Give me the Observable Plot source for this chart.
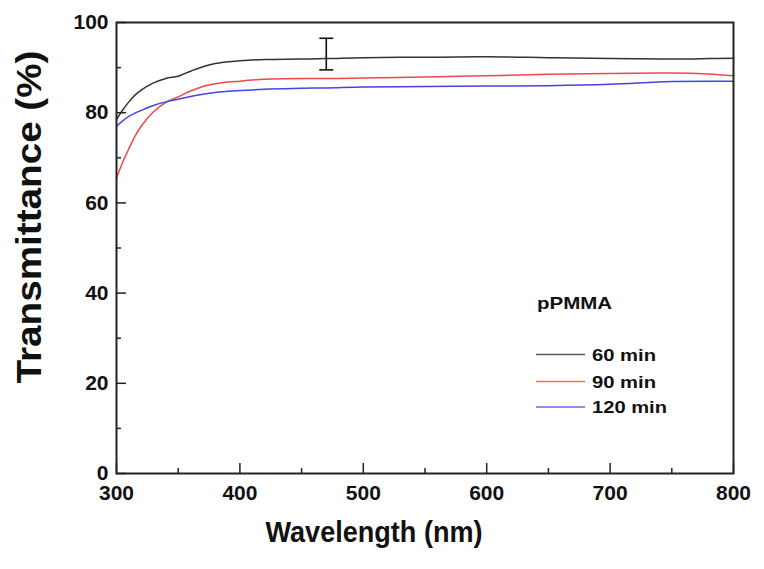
<!DOCTYPE html>
<html><head><meta charset="utf-8">
<script src="https://cdn.jsdelivr.net/npm/d3@7"></script>
<script src="https://cdn.jsdelivr.net/npm/@observablehq/plot@0.6"></script>
<style>
body{margin:0;background:#fff;}
#chart{width:764px;height:569px;}
</style></head><body><div id="chart"></div>
<script>
// Data
const wavelength = [300, 305, 310, 315, 320, 330, 340, 350, 360, 370, 380, 400, 420, 450, 470, 500, 550, 600, 650, 700, 750, 780, 800];
const t60  = [78.5, 80.6, 82.4, 83.9, 85.0, 86.6, 87.6, 88.1, 89.2, 90.2, 90.9, 91.5, 91.8, 91.9, 92.0, 92.2, 92.3, 92.4, 92.2, 92.0, 91.9, 92.0, 92.1];
const t90  = [65.5, 69.0, 72.0, 74.8, 77.0, 80.2, 82.3, 83.5, 84.8, 85.8, 86.4, 87.0, 87.4, 87.6, 87.6, 87.7, 87.9, 88.2, 88.5, 88.7, 88.8, 88.6, 88.2];
const t120 = [77.0, 78.2, 79.2, 79.9, 80.5, 81.6, 82.4, 83.0, 83.6, 84.1, 84.5, 84.9, 85.2, 85.4, 85.5, 85.7, 85.8, 85.9, 86.0, 86.3, 86.9, 87.0, 87.0];
const seriesNames = ["60 min", "90 min", "120 min"];
const seriesColors = ["#333333", "#f04848", "#4444e0"];
const xMajor = [300, 400, 500, 600, 700, 800];
const xMinor = [350, 450, 550, 650, 750];
const yMajor = [0, 20, 40, 60, 80, 100];
const yMinor = [10, 30, 50, 70, 90];
const errW = [470];
const errLo = [89.5];
const errHi = [96.5];
const legendTitle = "pPMMA";
const xTitle = "Wavelength (nm)";
const yTitle = "Transmittance (%)";

const values = [t60, t90, t120];
const rows = [];
seriesNames.forEach((s, i) => wavelength.forEach((w, j) => rows.push({series: s, w, t: values[i][j]})));
const err = errW.map((w, i) => ({w, lo: errLo[i], hi: errHi[i]}));

const capSymbol = {draw(ctx) { ctx.moveTo(-7, 0); ctx.lineTo(7, 0); }};

const font = "'Liberation Sans', Arial, sans-serif";
const plot = Plot.plot({
  width: 764, height: 569,
  marginLeft: 116, marginRight: 31, marginTop: 22, marginBottom: 96,
  style: {fontFamily: font, fontSize: "21px", fontWeight: "bold", color: "#111", background: "#fff", overflow: "visible"},
  x: {domain: [300, 800]},
  y: {domain: [0, 100]},
  color: {domain: seriesNames, range: seriesColors},
  marks: [
    Plot.line(rows, {x: "w", y: "t", z: "series", stroke: "series", strokeWidth: 1.5, curve: "monotone-x"}),
    Plot.ruleX(err, {x: "w", y1: "lo", y2: "hi", stroke: "#111", strokeWidth: 1.6}),
    Plot.dot(err, {x: "w", y: "lo", symbol: capSymbol, stroke: "#111", strokeWidth: 1.6, fill: "none"}),
    Plot.dot(err, {x: "w", y: "hi", symbol: capSymbol, stroke: "#111", strokeWidth: 1.6, fill: "none"}),
    Plot.axisX({ticks: xMajor, tickSize: -10, tickPadding: 22, label: null, tickFormat: d => d, stroke: "#222", strokeWidth: 1.5}),
    Plot.axisX({ticks: xMinor, tickSize: -5, tickPadding: 0, label: null, tickFormat: () => "", stroke: "#222", strokeWidth: 1.5}),
    Plot.axisY({ticks: yMajor, tickSize: -10, tickPadding: 18, label: null, tickFormat: d => d, stroke: "#222", strokeWidth: 1.5}),
    Plot.axisY({ticks: yMinor, tickSize: -5, tickPadding: 0, label: null, tickFormat: () => "", stroke: "#222", strokeWidth: 1.5}),
    Plot.frame({stroke: "#222", strokeWidth: 2}),
    Plot.text([xTitle], {text: d => d, frameAnchor: "bottom", textAnchor: "middle", dy: 68, dx: -51, fontSize: 29, fill: "#111"}),
    Plot.text([yTitle], {text: d => d, frameAnchor: "left", textAnchor: "middle", lineAnchor: "middle", rotate: -90, dx: -87, dy: -31, fontSize: 35, fill: "#111"})
  ]
});

const svg = d3.select(plot);
svg.selectAll("text").each(function() {
  if (this.textContent === xTitle) d3.select(this).attr("textLength", 217).attr("lengthAdjust", "spacingAndGlyphs");
  if (this.textContent === yTitle) d3.select(this).attr("textLength", 333).attr("lengthAdjust", "spacingAndGlyphs");
});

// Legend inside the plot area
const lg = svg.append("g").attr("font-family", font).attr("font-weight", "bold").attr("fill", "#111").attr("text-anchor", "start");
lg.append("text").attr("x", 537).attr("y", 309).attr("font-size", 17).attr("textLength", 75).attr("lengthAdjust", "spacingAndGlyphs").text(legendTitle);
const ly = [354.5, 381.5, 407];
seriesNames.forEach((s, i) => {
  lg.append("line").attr("x1", 536).attr("x2", 585).attr("y1", ly[i]).attr("y2", ly[i])
    .attr("stroke", seriesColors[i]).attr("stroke-width", 1.5).attr("opacity", 0.8);
  lg.append("text").attr("x", 592).attr("y", ly[i] + 6).attr("font-size", 17)
    .attr("textLength", s.length === 6 ? 64 : 75).attr("lengthAdjust", "spacingAndGlyphs").text(s);
});

document.getElementById("chart").appendChild(plot);
</script>
</body></html>
